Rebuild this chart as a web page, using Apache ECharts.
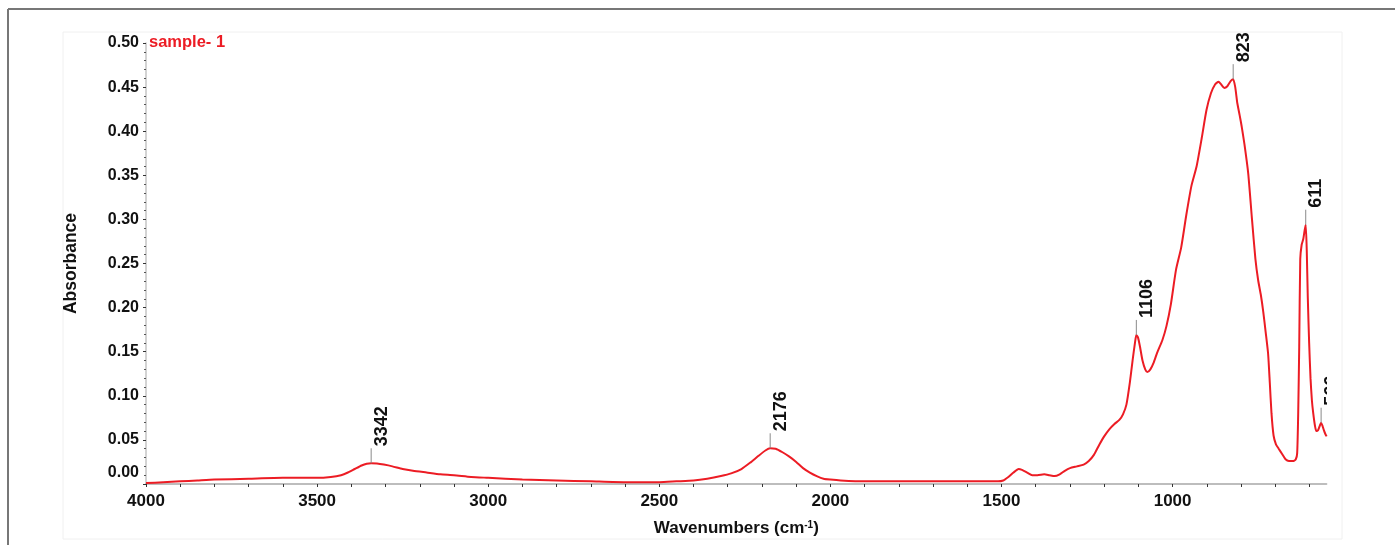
<!DOCTYPE html>
<html><head><meta charset="utf-8">
<script src="https://cdn.jsdelivr.net/npm/echarts@6/dist/echarts.min.js"></script>
<style>html,body{margin:0;padding:0;background:#fff}#c{width:1395px;height:545px}</style>
</head><body><div id="c"></div>
<script>
// ---- data ----
const wavenumbers = [4000,3950,3900,3850,3800,3700,3600,3500,3460,3430,3410,3390,3370,3355,3342,3325,3305,3280,3250,3220,3180,3140,3100,3050,3000,2900,2800,2700,2600,2500,2450,2400,2360,2320,2290,2260,2235,2210,2190,2176,2160,2140,2120,2100,2080,2060,2040,2020,2000,1970,1900,1800,1700,1600,1550,1510,1495,1480,1465,1450,1440,1425,1410,1395,1375,1360,1345,1330,1315,1300,1280,1260,1245,1230,1215,1200,1185,1170,1155,1145,1135,1125,1117,1110,1106,1101,1095,1088,1080,1074,1065,1055,1045,1030,1018,1005,990,975,960,945,930,915,901,888,876,866,858,849,840,830,823,817,811,804,798,790,779,768,758,750,742,735,728,721,716,711,705,698,690,680,670,660,648,640,636,633,630,627,623,618,614,611,608,605,601,597,593,589,584,580,575,570,566,562,558,554,550];
const absorbance = [0.001,0.002,0.003,0.004,0.005,0.006,0.007,0.007,0.008,0.010,0.013,0.017,0.021,0.023,0.0235,0.0232,0.022,0.020,0.017,0.015,0.013,0.011,0.010,0.008,0.007,0.005,0.004,0.003,0.002,0.002,0.003,0.004,0.006,0.009,0.012,0.017,0.024,0.032,0.038,0.0405,0.040,0.036,0.031,0.025,0.018,0.013,0.009,0.006,0.005,0.004,0.003,0.003,0.003,0.003,0.003,0.003,0.004,0.008,0.013,0.017,0.016,0.013,0.010,0.010,0.011,0.010,0.009,0.011,0.015,0.018,0.020,0.022,0.026,0.033,0.044,0.054,0.062,0.068,0.073,0.079,0.090,0.115,0.140,0.160,0.169,0.166,0.155,0.140,0.130,0.127,0.130,0.138,0.149,0.163,0.179,0.204,0.243,0.268,0.305,0.338,0.360,0.392,0.424,0.443,0.453,0.456,0.453,0.449,0.451,0.457,0.459,0.450,0.432,0.418,0.405,0.385,0.352,0.300,0.255,0.231,0.214,0.195,0.172,0.148,0.115,0.080,0.055,0.045,0.040,0.034,0.028,0.026,0.026,0.028,0.035,0.080,0.156,0.255,0.271,0.278,0.288,0.294,0.265,0.212,0.160,0.120,0.095,0.080,0.066,0.060,0.061,0.066,0.0695,0.066,0.061,0.057,0.054];
const peakWavenumbers = [3342, 2176, 1106, 823, 611, 566];
const peakAbsorbance = [0.0235, 0.0405, 0.169, 0.459, 0.294, 0.0695];
const peakLabels = ['3342', '2176', '1106', '823', '611', '566'];
const xTickLabels = [4000, 3500, 3000, 2500, 2000, 1500, 1000];
const xMinorTicks = [4000,3900,3800,3700,3600,3500,3400,3300,3200,3100,3000,2900,2800,2700,2600,2500,2400,2300,2200,2100,2000,1900,1800,1700,1600,1500,1400,1300,1200,1100,1000,900,800,700,600];
const yTickLabels = ['0.00','0.05','0.10','0.15','0.20','0.25','0.30','0.35','0.40','0.45','0.50'];
const seriesName = 'sample- 1';

const FONT = "'Liberation Sans', Arial, sans-serif";
const RED = '#ec1c24';

const lineData = wavenumbers.map((w, i) => [w, absorbance[i]]);
const peakData = peakWavenumbers.map((w, i) => [w, peakAbsorbance[i], i]);

function peakRender(params, api) {
  const p = api.coord([api.value(0), api.value(1)]);
  const idx = api.value(2);
  return {
    type: 'group',
    children: [
      { type: 'line', shape: { x1: p[0], y1: p[1], x2: p[0], y2: p[1] - 15 },
        style: { stroke: '#8a8a8a', lineWidth: 1 } },
      { type: 'text', x: p[0] + 1.5, y: p[1] - 17, rotation: Math.PI / 2,
        style: { text: peakLabels[idx], fill: '#111', font: 'bold 18px ' + FONT,
                 align: 'left', verticalAlign: 'top' } }
    ]
  };
}

const chart = echarts.init(document.getElementById('c'), null, { renderer: 'canvas' });
chart.setOption({
  animation: false,
  backgroundColor: '#fff',
  title: {
    text: seriesName, left: 149, top: 34, padding: 0,
    textStyle: { color: RED, fontFamily: FONT, fontWeight: 'bold', fontSize: 16.5 }
  },
  graphic: [
    { type: 'rect', shape: { x: 63, y: 32, width: 1279, height: 507 },
      style: { fill: 'none', stroke: '#f0f0f0', lineWidth: 1 }, z: -1, silent: true },
    { type: 'line', shape: { x1: 8, y1: 9, x2: 1395, y2: 9 },
      style: { stroke: '#777', lineWidth: 2 }, silent: true },
    { type: 'line', shape: { x1: 8, y1: 9, x2: 8, y2: 545 },
      style: { stroke: '#777', lineWidth: 2 }, silent: true }
  ],
  grid: { left: 146, right: 68.4, top: 43, bottom: 61, containLabel: false },
  xAxis: {
    type: 'value', min: 550, max: 4000, inverse: true,
    name: '{a|Wavenumbers (cm}{s|-1}{a|)}',
    nameLocation: 'middle', nameGap: 36,
    nameTextStyle: {
      rich: {
        a: { fontFamily: FONT, fontWeight: 'bold', fontSize: 17, color: '#111' },
        s: { fontFamily: FONT, fontWeight: 'bold', fontSize: 10, color: '#111', verticalAlign: 'top' }
      }
    },
    axisLine: { show: true, lineStyle: { color: '#a8a8a8', width: 1.5 } },
    axisTick: { show: true, length: 3, lineStyle: { color: '#333' }, customValues: xMinorTicks },
    axisLabel: { show: true, customValues: xTickLabels, margin: 9,
      formatter: function (v) { return String(v); },
      fontFamily: FONT, fontWeight: 'bold', fontSize: 17, color: '#111' },
    splitLine: { show: false }
  },
  yAxis: {
    type: 'value', min: 0, max: 0.5, interval: 0.05,
    name: 'Absorbance', nameLocation: 'middle', nameRotate: 90, nameGap: 66,
    nameTextStyle: { fontFamily: FONT, fontWeight: 'bold', fontSize: 17.5, color: '#111' },
    axisLine: { show: true, lineStyle: { color: '#c4c4c4', width: 1.5 } },
    axisTick: { show: true, length: 3, lineStyle: { color: '#333' } },
    minorTick: { show: true, splitNumber: 5, length: 2, lineStyle: { color: '#555' } },
    axisLabel: {
      margin: 7, fontFamily: FONT, fontWeight: 'bold', fontSize: 16, color: '#111',
      formatter: function (v) {
        const i = Math.round(v / 0.05);
        const t = yTickLabels[i];
        return i === 0 ? '{z|' + t + '}' : t;
      },
      rich: { z: { fontFamily: FONT, fontWeight: 'bold', fontSize: 16, color: '#111', padding: [0, 0, 22, 0] } }
    },
    splitLine: { show: false }
  },
  series: [
    { type: 'line', name: seriesName, data: lineData, showSymbol: false, smooth: 0.2,
      lineStyle: { color: RED, width: 2 }, itemStyle: { color: RED }, z: 2, clip: true },
    { type: 'custom', data: peakData.slice(0, 5), renderItem: peakRender, clip: false, z: 3 },
    { type: 'custom', data: peakData.slice(5), renderItem: peakRender, clip: true, z: 3 }
  ]
});
</script></body></html>
